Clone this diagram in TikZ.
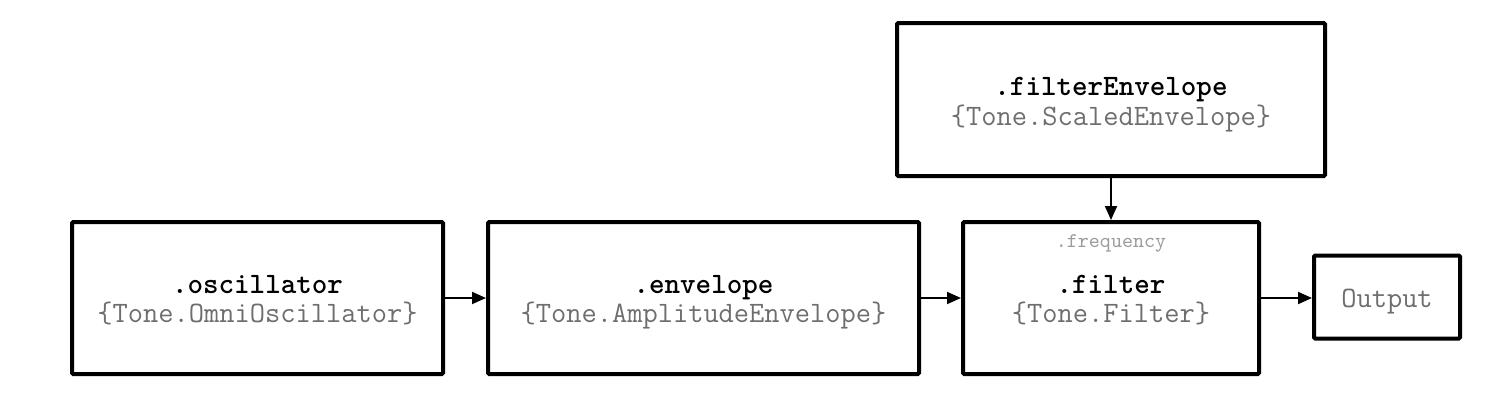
\documentclass[tikz,border=0pt]{standalone}
\usepackage{fontspec}
\usetikzlibrary{arrows.meta}
\definecolor{typegray}{HTML}{6E6E6E}
\definecolor{paramgray}{HTML}{9C9C9C}
\begin{document}
\begin{tikzpicture}[x=0.5pt,y=-0.5pt,
  box/.style={draw=black, line width=2pt, rounded corners=0.6pt, inner sep=0pt, fill=white},
  namelbl/.style={anchor=base, inner sep=0pt, font=\ttfamily\bfseries\fontsize{14.8}{16}\selectfont, text=black},
  typelbl/.style={anchor=base, inner sep=0pt, font=\ttfamily\fontsize{14.8}{16}\selectfont, text=typegray},
  paramlbl/.style={anchor=base, inner sep=0pt, font=\ttfamily\fontsize{10.5}{12}\selectfont, text=paramgray},
  conn/.style={line width=1pt, -{Triangle[length=7pt,width=6pt]}}
]
\useasboundingbox[fill=white] (0,0) rectangle (1512,402);

% boxes
\node[box, minimum width=185.5pt, minimum height=76pt] (osc)  at (257.5,298) {};
\node[box, minimum width=215.5pt, minimum height=76pt] (env)  at (703.5,298) {};
\node[box, minimum width=148pt,   minimum height=76pt] (filt) at (1111,298) {};
\node[box, minimum width=214pt,   minimum height=76.5pt] (fenv) at (1111,99.5) {};
\node[box, minimum width=73pt,    minimum height=41.5pt] (out)  at (1387,297) {};

% labels
\node[namelbl] (oscname) at (257.5,293) {.oscillator};
\node[typelbl] (osctype) at (257.5,322) {\{Tone.OmniOscillator\}};

\node[namelbl] (envname) at (703.5,293) {.envelope};
\node[typelbl] (envtype) at (703.5,322) {\{Tone.AmplitudeEnvelope\}};

\node[paramlbl] (freq) at (1111,247) {.frequency};
\node[namelbl] (filtname) at (1111,293) {.filter};
\node[typelbl] (filttype) at (1111,322) {\{Tone.Filter\}};

\node[namelbl] (fenvname) at (1111,95) {.filterEnvelope};
\node[typelbl] (fenvtype) at (1111,125) {\{Tone.ScaledEnvelope\}};

\node[typelbl] (outlbl) at (1387,307) {Output};

% connectors
\draw[conn] (osc.east) -- (env.west);
\draw[conn] (env.east) -- (filt.west);
\draw[conn] (filt.east) -- (filt.east -| out.west);
\draw[conn] (fenv.south) -- (filt.north);
\end{tikzpicture}
\end{document}
